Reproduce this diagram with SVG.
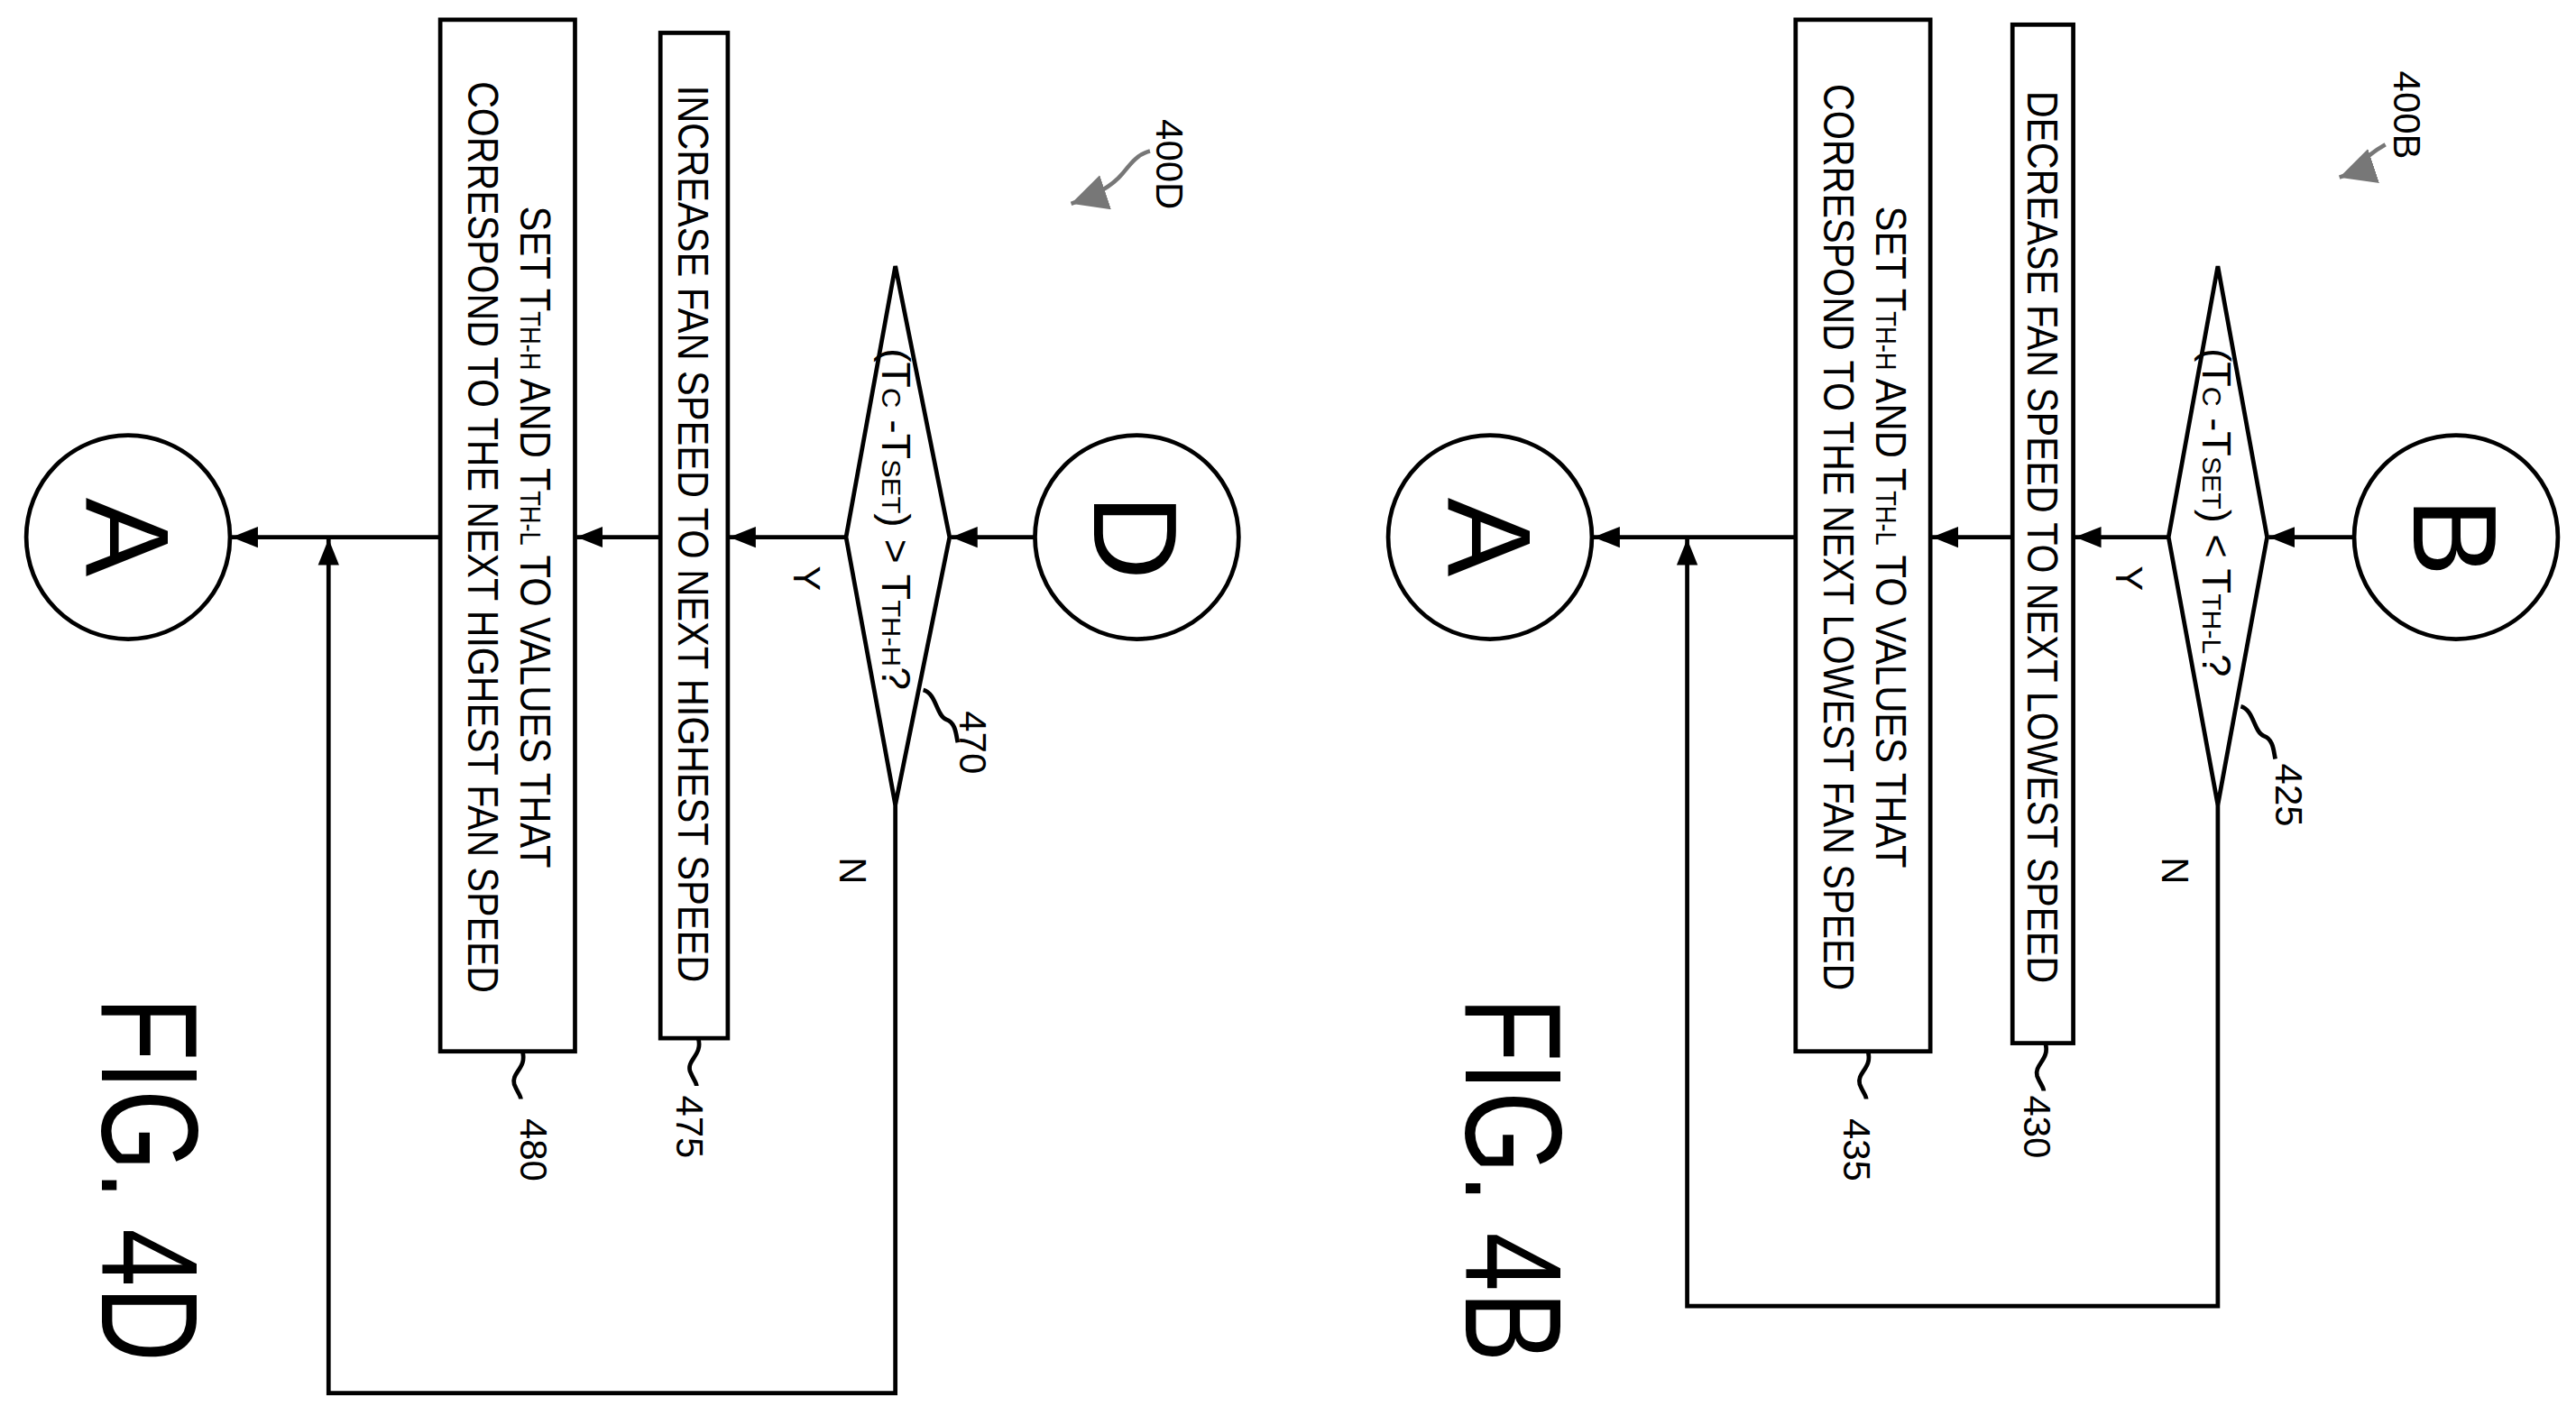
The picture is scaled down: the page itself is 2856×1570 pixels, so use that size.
<svg xmlns="http://www.w3.org/2000/svg" width="2856" height="1570" viewBox="0 0 2856 1570">
<style>
.s{fill:none;stroke:#000;stroke-width:2.6}
.b{fill:#fff;stroke:#000;stroke-width:2.6}
text{font-family:"Liberation Sans",Arial,sans-serif;fill:#000}
.t{font-size:26px}
.d{font-size:24px}
.r{font-size:23px}
.big{font-size:72px}
.fig{font-size:84px}
</style>
<defs>
<marker id="ar" viewBox="0 0 10 10" refX="10" refY="5" markerWidth="16" markerHeight="16" markerUnits="userSpaceOnUse" orient="auto"><path d="M0,1 L10,5 L0,9 Z" fill="#000"/></marker>
<marker id="ha" viewBox="0 0 10 10" refX="10" refY="5" markerWidth="22" markerHeight="22" markerUnits="userSpaceOnUse" orient="auto"><path d="M0,0 L10,5 L0,10 Z" fill="#777"/></marker>
</defs>
<rect width="2856" height="1570" fill="#fff"/>
<g transform="scale(1.8214)">
<g id="connectors">
<path class="s" d="M1433,327 H1381" marker-end="url(#ar)"/>
<path class="s" d="M1320,327 H1263" marker-end="url(#ar)"/>
<path class="s" d="M1225,327 H1176" marker-end="url(#ar)"/>
<path class="s" d="M1093,327 H970" marker-end="url(#ar)"/>
<path class="s" d="M1350,490 V795 H1027 V328" marker-end="url(#ar)"/>
<path class="s" d="M630,327 H579" marker-end="url(#ar)"/>
<path class="s" d="M515,327 H444" marker-end="url(#ar)"/>
<path class="s" d="M402,327 H351" marker-end="url(#ar)"/>
<path class="s" d="M268,327 H141" marker-end="url(#ar)"/>
<path class="s" d="M545,490 V848 H200 V328" marker-end="url(#ar)"/>
<text class="r" transform="translate(1288,352) rotate(90)" text-anchor="middle">Y</text>
<text class="r" transform="translate(1316,530) rotate(90)" text-anchor="middle">N</text>
<text class="r" transform="translate(483,352) rotate(90)" text-anchor="middle">Y</text>
<text class="r" transform="translate(511,530) rotate(90)" text-anchor="middle">N</text>
</g>
<g id="B"><circle class="b" cx="1495" cy="327" r="62"/><text class="big" transform="translate(1469,327) rotate(90)" text-anchor="middle">B</text></g>
<g id="n425"><path class="b" d="M1350,162 L1380,327 L1350,490 L1320,327 Z"/>
<text class="d" transform="translate(1341,312) rotate(90)" text-anchor="middle" textLength="200" lengthAdjust="spacingAndGlyphs">(T<tspan font-size="16">C</tspan> -T<tspan font-size="16">SET</tspan>) &lt; T<tspan font-size="16">TH-L</tspan>?</text>
<path class="s" d="M1364,430 C1372,432 1372,446 1378,448 C1384,450 1384,458 1385,462"/>
<text class="r" transform="translate(1385,484) rotate(90)" text-anchor="middle">425</text></g>
<g id="n430"><rect class="b" x="1225" y="15" width="37" height="620"/>
<text class="t" transform="translate(1234,327) rotate(90)" text-anchor="middle" textLength="543" lengthAdjust="spacingAndGlyphs">DECREASE FAN SPEED TO NEXT LOWEST SPEED</text>
<path class="s" d="M1245,635 C1248,645 1238,648 1240,655 C1242,660 1244,662 1244,664"/>
<text class="r" transform="translate(1232,686) rotate(90)" text-anchor="middle">430</text></g>
<g id="n435"><rect class="b" x="1093" y="12" width="82" height="628"/>
<text class="t" transform="translate(1142,327) rotate(90)" text-anchor="middle" textLength="403" lengthAdjust="spacingAndGlyphs">SET T<tspan font-size="17">TH-H</tspan> AND T<tspan font-size="17">TH-L</tspan> TO VALUES THAT</text>
<text class="t" transform="translate(1110,327) rotate(90)" text-anchor="middle" textLength="552" lengthAdjust="spacingAndGlyphs">CORRESPOND TO THE NEXT LOWEST FAN SPEED</text>
<path class="s" d="M1137,640 C1140,650 1130,653 1132,660 C1134,665 1136,667 1136,669"/>
<text class="r" transform="translate(1122,700) rotate(90)" text-anchor="middle">435</text></g>
<g id="A1"><circle class="b" cx="907" cy="327" r="62"/><text class="big" transform="translate(881,327) rotate(90)" text-anchor="middle">A</text></g>
<g id="r400B"><text class="r" transform="translate(1457,70) rotate(90)" text-anchor="middle">400B</text>
<path d="M1452,88 C1445,92 1440,96 1437,100 C1434,104 1430,106 1424,108" fill="none" stroke="#777" stroke-width="2.5" marker-end="url(#ha)"/></g>
<text class="fig" transform="translate(892,718) rotate(90)" text-anchor="middle" textLength="222" lengthAdjust="spacingAndGlyphs">FIG. 4B</text>

<g id="D"><circle class="b" cx="692" cy="327" r="62"/><text class="big" transform="translate(666,327) rotate(90)" text-anchor="middle">D</text></g>
<g id="n470"><path class="b" d="M545,162 L578,327 L545,490 L515,327 Z"/>
<text class="d" transform="translate(537,316) rotate(90)" text-anchor="middle" textLength="208" lengthAdjust="spacingAndGlyphs">(T<tspan font-size="16">C</tspan> -T<tspan font-size="16">SET</tspan>) &gt; T<tspan font-size="16">TH-H</tspan>?</text>
<path class="s" d="M562,420 C570,422 570,436 576,438 C582,440 582,448 583,452"/>
<text class="r" transform="translate(584,452) rotate(90)" text-anchor="middle">470</text></g>
<g id="n475"><rect class="b" x="402" y="20" width="41" height="612"/>
<text class="t" transform="translate(413,325) rotate(90)" text-anchor="middle" textLength="546" lengthAdjust="spacingAndGlyphs">INCREASE FAN SPEED TO NEXT HIGHEST SPEED</text>
<path class="s" d="M425,632 C428,642 418,645 420,652 C422,657 424,659 424,661"/>
<text class="r" transform="translate(412,686) rotate(90)" text-anchor="middle">475</text></g>
<g id="n480"><rect class="b" x="268" y="12" width="82" height="628"/>
<text class="t" transform="translate(317,327) rotate(90)" text-anchor="middle" textLength="403" lengthAdjust="spacingAndGlyphs">SET T<tspan font-size="17">TH-H</tspan> AND T<tspan font-size="17">TH-L</tspan> TO VALUES THAT</text>
<text class="t" transform="translate(285,327) rotate(90)" text-anchor="middle" textLength="555" lengthAdjust="spacingAndGlyphs">CORRESPOND TO THE NEXT HIGHEST FAN SPEED</text>
<path class="s" d="M318,640 C321,650 311,653 313,660 C315,665 317,667 317,669"/>
<text class="r" transform="translate(317,700) rotate(90)" text-anchor="middle">480</text></g>
<g id="A2"><circle class="b" cx="78" cy="327" r="62"/><text class="big" transform="translate(52,327) rotate(90)" text-anchor="middle">A</text></g>
<g id="r400D"><text class="r" transform="translate(704,100) rotate(90)" text-anchor="middle">400D</text>
<path d="M700,92 C692,94 688,100 683,106 C678,112 670,118 652,124" fill="none" stroke="#777" stroke-width="2.5" marker-end="url(#ha)"/></g>
<text class="fig" transform="translate(62,718) rotate(90)" text-anchor="middle" textLength="222" lengthAdjust="spacingAndGlyphs">FIG. 4D</text>
</g>
</svg>
